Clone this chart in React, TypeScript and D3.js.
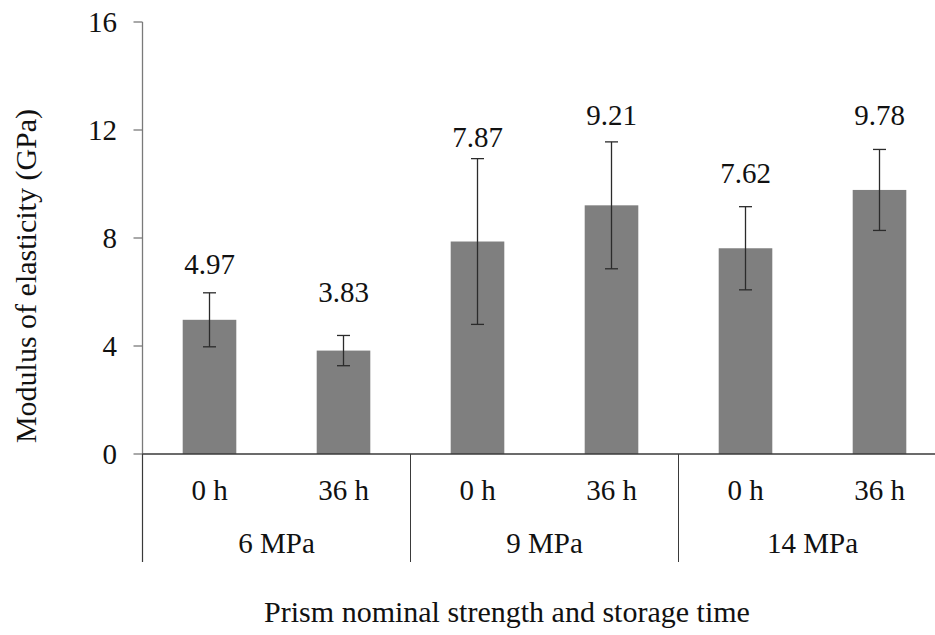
import React from "react";
import * as d3 from "d3";

const categories = ["6|0 h", "6|36 h", "9|0 h", "9|36 h", "14|0 h", "14|36 h"];
const subLabels = ["0 h", "36 h", "0 h", "36 h", "0 h", "36 h"];
const groups = ["6 MPa", "9 MPa", "14 MPa"];
const values = [4.97, 3.83, 7.87, 9.21, 7.62, 9.78];
const errors = [1.0, 0.56, 3.07, 2.35, 1.54, 1.5];
const valueLabels = ["4.97", "3.83", "7.87", "9.21", "7.62", "9.78"];
const labelLevels = [6.67, 5.63, 11.37, 12.19, 10.04, 12.19];
const yTicks = [0, 4, 8, 12, 16];

const W = 935;
const H = 635;
const left = 142.5;
const right = 946.5;
const top = 22;
const bottom = 454;

export default function App() {
  const x = d3.scaleBand<string>().domain(categories).range([left, right]).paddingInner(0.6).paddingOuter(0.3);
  const y = d3.scaleLinear().domain([0, 16]).range([bottom, top]);
  const step = x.step();
  const groupEdges = d3.range(groups.length + 1).map((i) => left + i * step * 2);
  const sepBottom = 562;
  const cap = 6.5;
  const ts: React.CSSProperties = { fontFamily: '"Liberation Serif"', fontSize: 29 };
  const tt: React.CSSProperties = { fontFamily: '"Liberation Serif"', fontSize: 30 };

  return (
    <svg width={W} height={H} style={{ position: "absolute", left: 0, top: 0, background: "#fff" }}>
      <rect x={0} y={0} width={W} height={H} fill="#fff" />
      {categories.map((c, i) => (
        <rect key={c} x={x(c)} y={y(values[i])} width={x.bandwidth()} height={bottom - y(values[i])} fill="#7f7f7f" />
      ))}
      {categories.map((c, i) => {
        const cx = (x(c) as number) + x.bandwidth() / 2;
        const y1 = y(values[i] + errors[i]);
        const y2 = y(values[i] - errors[i]);
        return (
          <g key={"e" + c} stroke="#2b2b2b" strokeWidth={1.3}>
            <line x1={cx} x2={cx} y1={y1} y2={y2} />
            <line x1={cx - cap} x2={cx + cap} y1={y1} y2={y1} />
            <line x1={cx - cap} x2={cx + cap} y1={y2} y2={y2} />
          </g>
        );
      })}
      {categories.map((c, i) => (
        <text key={"v" + c} x={(x(c) as number) + x.bandwidth() / 2} y={y(labelLevels[i])} textAnchor="middle" style={ts} fill="#111">
          {valueLabels[i]}
        </text>
      ))}
      <line x1={left} x2={left} y1={top} y2={sepBottom} stroke="#7a7a7a" strokeWidth={1.3} />
      {yTicks.map((t) => (
        <g key={"t" + t}>
          <line x1={left - 9} x2={left} y1={y(t)} y2={y(t)} stroke="#7a7a7a" strokeWidth={1.3} />
          <text x={117} y={y(t) + 9.5} textAnchor="end" style={ts} fill="#111">
            {t}
          </text>
        </g>
      ))}
      <line x1={left} x2={right} y1={bottom} y2={bottom} stroke="#3a3a3a" strokeWidth={1.3} />
      {groupEdges.map((gx, i) => (
        <line key={"s" + i} x1={gx} x2={gx} y1={bottom} y2={sepBottom} stroke="#3a3a3a" strokeWidth={1} />
      ))}
      {categories.map((c, i) => (
        <text key={"c" + c} x={(x(c) as number) + x.bandwidth() / 2} y={500} textAnchor="middle" style={ts} fill="#111">
          {subLabels[i]}
        </text>
      ))}
      {groups.map((g, i) => (
        <text key={g} x={(groupEdges[i] + groupEdges[i + 1]) / 2} y={553} textAnchor="middle" style={ts} fill="#111">
          {g}
        </text>
      ))}
      <text x={507} y={622} textAnchor="middle" style={tt} fill="#111">
        Prism nominal strength and storage time
      </text>
      <text transform={`translate(36,276) rotate(-90)`} textAnchor="middle" style={tt} fill="#111">
        Modulus of elasticity (GPa)
      </text>
    </svg>
  );
}
